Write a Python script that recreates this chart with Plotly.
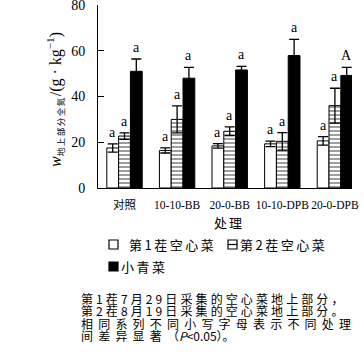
import plotly.graph_objects as go

categories = ["对照", "10-10-BB", "20-0-BB", "10-10-DPB", "20-0-DPB"]
series_names = ["第1茬空心菜", "第2茬空心菜", "小青菜"]

crop1 = [17.5, 16.4, 18.4, 19.3, 20.6]
crop1_err = [1.8, 1.1, 1.0, 1.2, 1.9]
crop2 = [22.7, 30.0, 24.8, 20.4, 36.0]
crop2_err = [1.4, 5.9, 1.9, 3.8, 7.6]
crop3 = [51.0, 48.0, 51.6, 57.9, 49.2]
crop3_err = [5.4, 4.7, 1.6, 7.1, 3.5]

letters1 = ["a", "a", "a", "a", "a"]
letters2 = ["a", "a", "a", "a", "a"]
letters3 = ["a", "a", "a", "a", "A"]

y_ticks = [0, 20, 40, 60, 80]

SERIF = "Liberation Serif, Times New Roman, Noto Sans CJK SC"
CJK = "Noto Sans CJK SC"

# layout geometry (pixels)
W, H = 364, 357
ML, MR, MT, MB = 98, 12, 5, 169
PW = W - ML - MR
PH = H - MT - MB


def px(xp):
    return (xp - ML) / PW


def py(yp):
    return (H - MB - yp) / PH


fig = go.Figure()

fig.add_trace(go.Bar(
    x=categories, y=crop1, name=series_names[0],
    marker=dict(color="white", line=dict(color="black", width=1)),
    error_y=dict(type="data", array=crop1_err, visible=True,
                 color="black", thickness=1.3, width=5),
    showlegend=False, hoverinfo="skip",
))
fig.add_trace(go.Bar(
    x=categories, y=crop2, name=series_names[1],
    marker=dict(color="white", line=dict(color="black", width=1),
                pattern=dict(shape="-", fgcolor="black", bgcolor="white",
                             size=4, solidity=0.38)),
    error_y=dict(type="data", array=crop2_err, visible=True,
                 color="black", thickness=1.3, width=5),
    showlegend=False, hoverinfo="skip",
))
fig.add_trace(go.Bar(
    x=categories, y=crop3, name=series_names[2],
    marker=dict(color="black", line=dict(color="black", width=1)),
    error_y=dict(type="data", array=crop3_err, visible=True,
                 color="black", thickness=1.3, width=5),
    showlegend=False, hoverinfo="skip",
))

annotations = []
bar_w = PW / 4.829 * (1 - 0.327) / 3
for vals, errs, letters, shift in [
    (crop1, crop1_err, letters1, -bar_w),
    (crop2, crop2_err, letters2, 0),
    (crop3, crop3_err, letters3, bar_w),
]:
    for c, v, e, t in zip(categories, vals, errs, letters):
        annotations.append(dict(
            x=c, y=v + e, xref="x", yref="y", text=t, showarrow=False,
            xanchor="center", yanchor="bottom", xshift=shift, yshift=2,
            font=dict(family=SERIF, size=14, color="black"),
        ))

# y-axis title
annotations.append(dict(
    x=px(55), y=py(100), xref="paper", yref="paper", showarrow=False,
    textangle=-90, xanchor="center", yanchor="middle",
    text=("<i>w</i><sub><span style='font-size:8.5px;letter-spacing:1.5px;"
          "font-family:Noto Sans CJK SC'>地上部分全氮</span></sub>"
          "/(g · kg<sup>−1</sup>)"),
    font=dict(family=SERIF, size=16, color="black"),
))

# x-axis title
annotations.append(dict(
    x=px(229), y=py(222), xref="paper", yref="paper", showarrow=False,
    text="<span style='letter-spacing:2px'>处理</span>",
    xanchor="center", yanchor="middle",
    font=dict(family=CJK, size=13, color="black"),
))

# legend texts
leg_font = dict(family=CJK, size=13, color="black")
for text, xp, yp in [(series_names[0], 127, 244.5),
                     (series_names[1], 238, 244.5),
                     (series_names[2], 119, 266.5)]:
    annotations.append(dict(
        x=px(xp), y=py(yp), xref="paper", yref="paper", showarrow=False,
        xanchor="left", yanchor="middle",
        text=f"<span style='letter-spacing:2.5px'>{text}</span>",
        font=leg_font,
    ))

# caption
cap_lines = [
    "<span style='letter-spacing:3.1px'>第1茬7月29日采集的空心菜地上部分，</span>",
    "<span style='letter-spacing:3.1px'>第2茬8月19日采集的空心菜地上部分。</span>",
    "<span style='letter-spacing:5.2px'>相同系列不同小写字母表示不同处理</span>",
    "<span style='letter-spacing:5.2px'>间差异显著</span>（<i>P</i>&lt;0.05）。",
]
for line, yp in zip(cap_lines, [298, 310.5, 323, 335.5]):
    annotations.append(dict(
        x=px(79), y=py(yp), xref="paper", yref="paper", showarrow=False,
        xanchor="left", yanchor="middle", text=line,
        font=dict(family=CJK, size=12, color="black"),
    ))

# legend icons
shapes = []
for x0, y0, fill in [(109, 240, "white"), (228, 240, "white"), (109, 262, "black")]:
    shapes.append(dict(type="rect", xref="paper", yref="paper",
                       x0=px(x0), x1=px(x0 + 9), y0=py(y0), y1=py(y0 + 9),
                       line=dict(color="black", width=1.2), fillcolor=fill))
shapes.append(dict(type="line", xref="paper", yref="paper",
                   x0=px(228), x1=px(237), y0=py(244.5), y1=py(244.5),
                   line=dict(color="black", width=1.2)))

fig.update_layout(
    width=W, height=H,
    margin=dict(l=ML, r=MR, t=MT, b=MB, pad=0, autoexpand=False),
    paper_bgcolor="white", plot_bgcolor="white",
    barmode="group", bargap=0.327, bargroupgap=0,
    showlegend=False, hovermode=False,
    annotations=annotations,
    shapes=shapes,
    xaxis=dict(
        type="category", range=[-0.504, 4.325], automargin=False,
        showline=True, linecolor="black", linewidth=1,
        ticks="", showgrid=False, zeroline=False, tickangle=0,
        tickfont=dict(family=SERIF, size=11.5, color="black"),
        ticklabelstandoff=6,
    ),
    yaxis=dict(
        range=[0, 80], tickvals=y_ticks, automargin=False,
        showline=True, linecolor="black", linewidth=1,
        ticks="inside", ticklen=6, tickwidth=1, tickcolor="black",
        showgrid=False, zeroline=False, ticklabeloverflow="allow",
        tickfont=dict(family=SERIF, size=14, color="black"),
        ticklabelstandoff=9,
    ),
)

fig.write_html(
    "out.html",
    config={"displayModeBar": False},
    post_script="document.body.style.margin='0';document.body.style.overflow='hidden';",
)
